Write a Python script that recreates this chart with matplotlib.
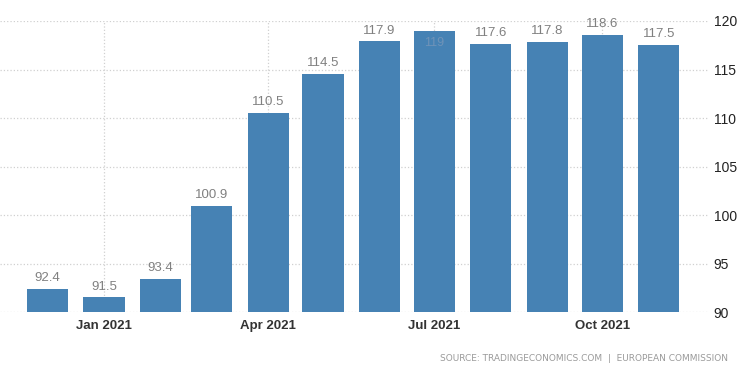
import matplotlib
matplotlib.use("Agg")
import matplotlib.pyplot as plt
import matplotlib.dates as mdates
import numpy as np
import pandas as pd

# monthly index values, Dec 2020 - Nov 2021
months = ["2020-12", "2021-01", "2021-02", "2021-03", "2021-04", "2021-05",
          "2021-06", "2021-07", "2021-08", "2021-09", "2021-10", "2021-11"]
values = [92.4, 91.5, 93.4, 100.9, 110.5, 114.5, 117.9, 119, 117.6, 117.8, 118.6, 117.5]
labels = ["92.4", "91.5", "93.4", "100.9", "110.5", "114.5", "117.9", "119",
          "117.6", "117.8", "118.6", "117.5"]
xticks = ["2021-01", "2021-04", "2021-07", "2021-10"]
yticks = [90, 95, 100, 105, 110, 115, 120]

dates = pd.to_datetime(months)

fig = plt.figure(figsize=(7.5, 3.75), dpi=100)
ax = fig.add_axes([0.0, 0.168, 0.944, 0.776])

ax.bar(dates, values, width=22.5, color="#4682b4", zorder=3)

for d, v, s in zip(dates, values, labels):
    if v >= 119:
        ax.text(d, v - 0.6, s, ha="center", va="top", fontsize=9,
                color="#6f93b8", family="Liberation Sans", zorder=4)
    else:
        ax.text(d, v + 0.5, s, ha="center", va="bottom", fontsize=9.5,
                color="#808080", family="Liberation Sans", zorder=4)

ax.set_ylim(90, 120)
ax.set_xlim(pd.Timestamp("2020-11-05"), pd.Timestamp("2021-11-28"))

ax.set_yticks(yticks)
ax.yaxis.tick_right()
ax.tick_params(axis="y", length=0, pad=4, labelsize=10, labelcolor="#222222")
ax.set_xticks(pd.to_datetime(xticks))
ax.xaxis.set_major_formatter(mdates.DateFormatter("%b %Y"))
ax.tick_params(axis="x", length=0, pad=6, labelsize=9.5, labelcolor="#333333")
for lab in ax.get_xticklabels() + ax.get_yticklabels():
    lab.set_family("Liberation Sans")
for lab in ax.get_xticklabels():
    lab.set_fontweight("bold")

ax.grid(True, color="#d0d0d0", linestyle=":", linewidth=0.9, zorder=0)
for sp in ax.spines.values():
    sp.set_visible(False)
ax.set_clip_on(False)

fig.text(0.971, 0.045, "SOURCE: TRADINGECONOMICS.COM  |  EUROPEAN COMMISSION",
         ha="right", va="center", fontsize=6.5, color="#9a9a9a",
         family="DejaVu Sans")

fig.savefig("out.png", dpi=100)
